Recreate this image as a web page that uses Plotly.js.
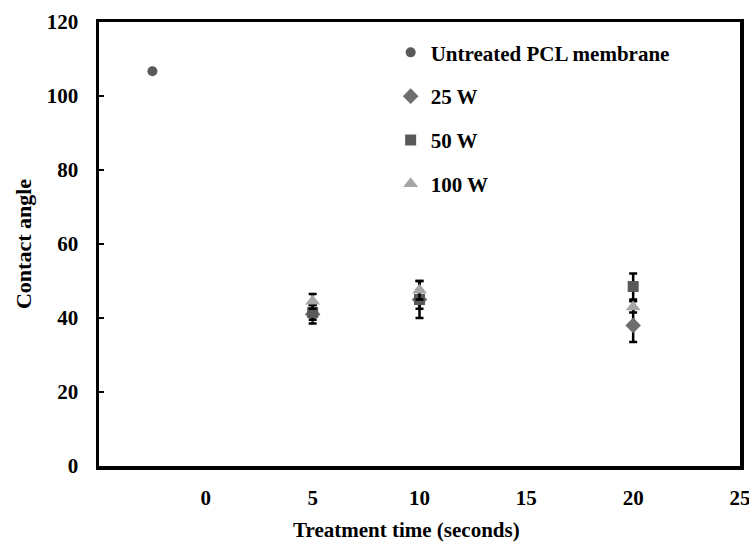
<!DOCTYPE html>
<html>
<head>
<meta charset="utf-8">
<script src="https://cdn.plot.ly/plotly-3.0.1.min.js"></script>
<style>html,body{margin:0;padding:0;background:#fff;}#chart{width:749px;height:544px;}</style>
</head>
<body>
<div id="chart"></div>
<script>
const untreatedX = [-2.5];
const untreatedY = [106.7];
const times = [5, 10, 20];
const w25 = [41, 45, 38];
const w25Err = [2.5, 5, 4.5];
const w50 = [41.5, 45, 48.5];
const w50Err = [2, 2.5, 3.5];
const w100 = [44.5, 47.5, 43];
const w100Err = [2, 2.5, 1.5];
const xTicks = [0, 5, 10, 15, 20, 25];
const yTicks = [0, 20, 40, 60, 80, 100, 120];

const fam = 'Liberation Serif, Times New Roman, serif';
const font = {family: fam, size: 21, color: '#000'};
const eb = (arr) => ({type: 'data', array: arr, visible: true, color: '#000', thickness: 2.5, width: 4});

const traces = [
  {x: untreatedX, y: untreatedY, name: '<b>Untreated PCL membrane</b>', mode: 'markers', type: 'scatter',
   legendgroup: 'a', marker: {symbol: 'circle', size: 10, color: '#595959'}},
  {x: times, y: w25, name: '<b>25 W</b>', mode: 'markers', type: 'scatter', legendgroup: 'b',
   error_y: eb(w25Err), marker: {symbol: 'diamond', size: 12, color: '#6e6e6e'}},
  {x: times, y: w50, name: '<b>50 W</b>', mode: 'markers', type: 'scatter', legendgroup: 'c',
   error_y: eb(w50Err), marker: {symbol: 'square', size: 11, color: '#595959'}},
  {x: times, y: w100, name: '<b>100 W</b>', mode: 'markers', type: 'scatter', legendgroup: 'd',
   error_y: eb(w100Err), marker: {symbol: 'triangle-up', size: 13, color: '#a6a6a6'}}
];

const layout = {
  width: 749, height: 544,
  margin: {l: 99, r: 9, t: 22, b: 78},
  paper_bgcolor: '#fff', plot_bgcolor: '#fff',
  font: font,
  showlegend: true,
  legend: {x: 0.455, y: 0.977, xanchor: 'left', yanchor: 'top', bgcolor: 'rgba(0,0,0,0)',
           font: font, traceorder: 'grouped', tracegroupgap: 13.5, itemwidth: 30},
  xaxis: {
    range: [-5, 25], tickvals: xTicks, ticktext: xTicks.map(v => '<b>' + v + '</b>'),
    showline: true, mirror: true, linecolor: '#000', linewidth: 3.5,
    showgrid: false, zeroline: false, ticks: '', ticklabelstandoff: 10,
    ticklabeloverflow: 'allow',
    tickfont: {family: fam, size: 21, color: '#000'},
    title: {text: '<b>Treatment time (seconds)</b>&nbsp;&nbsp;&nbsp;&nbsp;&nbsp;', font: font, standoff: 14}
  },
  yaxis: {
    range: [0, 120], tickvals: yTicks, ticktext: yTicks.map(v => '<b>' + v + '</b>'),
    showline: true, mirror: true, linecolor: '#000', linewidth: 3.5,
    showgrid: false, zeroline: false, ticks: 'inside', ticklen: 5, tickwidth: 2.5, tickcolor: '#000',
    ticklabelstandoff: 13,
    tickfont: {family: fam, size: 21, color: '#000'},
    title: {text: '<b>Contact angle</b>', font: {family: fam, size: 22, color: '#000'}, standoff: 10}
  }
};

Plotly.newPlot('chart', traces, layout, {displayModeBar: false, staticPlot: true});
</script>
</body>
</html>
